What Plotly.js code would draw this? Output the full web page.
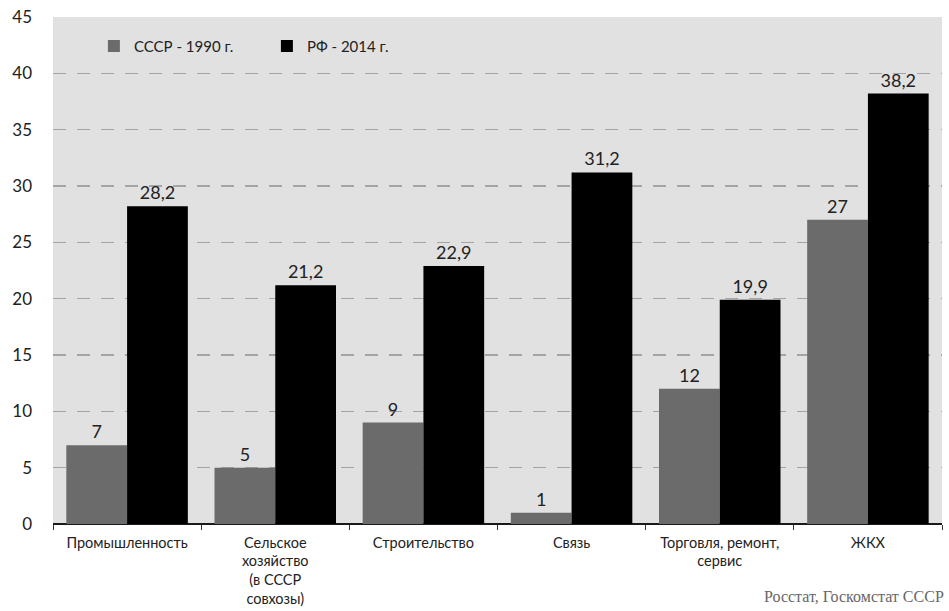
<!DOCTYPE html>
<html><head><meta charset="utf-8">
<script src="https://cdn.plot.ly/plotly-3.0.1.min.js"></script>
<style>html,body{margin:0;padding:0;background:#fff}#chart{width:949px;height:611px}</style>
</head><body><div id="chart"></div>
<script>
var categories = ["Промышленность", "Сельское<br>хозяйство<br>(в СССР<br>совхозы)", "Строительство", "Связь", "Торговля, ремонт,<br>сервис", "ЖКХ"];
var ussr1990 = [7, 5, 9, 1, 12, 27];
var rf2014 = [28.2, 21.2, 22.9, 31.2, 19.9, 38.2];
var seriesNames = ["СССР - 1990 г.", "РФ - 2014 г."];
var yTicks = [0, 5, 10, 15, 20, 25, 30, 35, 40, 45];
var sourceText = "Росстат, Госкомстат СССР";

function fmt(v){ return String(v).replace('.', ','); }
var font = "Lato, 'Open Sans', sans-serif";

var traces = [
  {type:'bar', name:seriesNames[0], x:categories, y:ussr1990, marker:{color:'#6b6b6b'},
   text:ussr1990.map(fmt), textposition:'outside', cliponaxis:false,
   textfont:{family:font, size:18, color:'#222'}, hoverinfo:'none'},
  {type:'bar', name:seriesNames[1], x:categories, y:rf2014, marker:{color:'#000000'},
   text:rf2014.map(fmt), textposition:'outside', cliponaxis:false,
   textfont:{family:font, size:18, color:'#222'}, hoverinfo:'none'}
];

var layout = {
  width:949, height:611,
  margin:{l:53, r:7, t:17, b:87},
  paper_bgcolor:'#ffffff', plot_bgcolor:'#e1e1e1',
  barmode:'group', bargap:0.18, bargroupgap:0,
  font:{family:font, color:'#222'},
  showlegend:true,
  legend:{orientation:'h', x:0.046, y:0.975, xanchor:'left', yanchor:'top',
    bgcolor:'rgba(0,0,0,0)', font:{family:font, size:15, color:'#222'}, traceorder:'normal',
    itemwidth:30, entrywidth:128},
  xaxis:{type:'category', showgrid:false, ticks:'outside', ticklen:5, tickcolor:'#333',
    tickfont:{family:font, size:14.5, color:'#222'}, showline:false, zeroline:false,
    tickson:'boundaries', ticklabelstandoff:8},
  yaxis:{range:[0,45], tickvals:yTicks, ticktext:yTicks.map(String), showgrid:true,
    gridcolor:'#a4a4a4', griddash:'13px,11px', gridwidth:1.6, zeroline:true, zerolinecolor:'#1a1a1a',
    zerolinewidth:2.5, tickfont:{family:font, size:17, color:'#222'}, ticks:'', showline:false,
    ticklabelstandoff:20},
  annotations:[{xref:'paper', yref:'paper', x:1.005, y:-0.143, xanchor:'right', yanchor:'middle',
    text:sourceText, showarrow:false, font:{family:"'Liberation Serif', 'DejaVu Serif', serif", size:16, color:'#666'}}]
};

Plotly.newPlot('chart', traces, layout, {displayModeBar:false, staticPlot:true});
</script>
</body></html>
